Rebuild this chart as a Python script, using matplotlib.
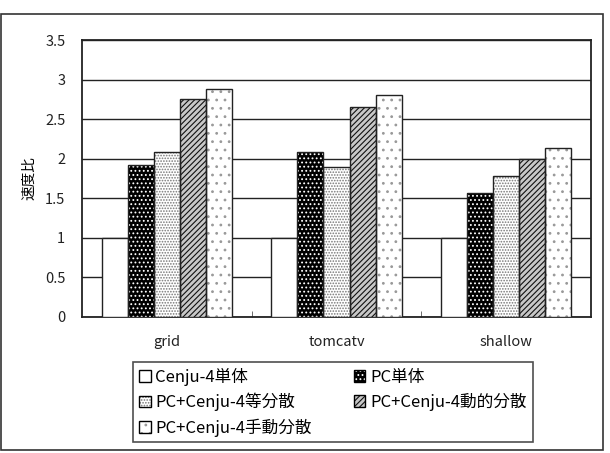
import matplotlib.pyplot as plt
import matplotlib.patches as patches
import numpy as np

plt.rcParams['font.family'] = ['Noto Sans CJK JP', 'DejaVu Sans']
plt.rcParams['hatch.linewidth'] = 0.8

# data
programs = ["grid", "tomcatv", "shallow"]
series = ["Cenju-4単体", "PC単体", "PC+Cenju-4等分散", "PC+Cenju-4動的分散", "PC+Cenju-4手動分散"]
cenju = [1.0, 1.0, 1.0]
pc = [1.92, 2.09, 1.57]
pc_equal = [2.08, 1.89, 1.78]
pc_dynamic = [2.75, 2.65, 2.00]
pc_manual = [2.88, 2.81, 2.13]
yticks = [0, 0.5, 1, 1.5, 2, 2.5, 3, 3.5]
ytick_labels = ["0", "0.5", "1", "1.5", "2", "2.5", "3", "3.5"]

values = [cenju, pc, pc_equal, pc_dynamic, pc_manual]
# face, hatch, hatch colour
styles = [("white", None, "black"),
          ("black", "....", "white"),
          ("white", "......", "#777777"),
          ("#c8c8c8", "//////", "#111111"),
          ("white", "..", "#999999")]

fig = plt.figure(figsize=(6.10, 4.53), dpi=100)
ax = fig.add_axes([82/610, 1-317/453, (591-82)/610, (317-40)/453])

# outer chart frame
fig.patches.append(patches.Rectangle((1/610, 1-450/453), 602/610, 436/453,
                                     transform=fig.transFigure, fill=False,
                                     edgecolor="#333333", linewidth=1.2))

x = np.arange(len(programs))
w = 1/6.5
handles = []
for i, vals in enumerate(values):
    face, hatch, hc = styles[i]
    pos = x - 2*w + i*w
    ax.bar(pos, vals, w, color=face, edgecolor=hc, hatch=hatch, linewidth=0, zorder=3)
    ax.bar(pos, vals, w, fill=False, edgecolor="#222222", linewidth=1.0, zorder=4)
    handles.append(patches.Patch(facecolor=face, edgecolor=hc, hatch=hatch, linewidth=0))

ax.set_xlim(-0.5, 2.5)
ax.set_ylim(0, 3.5)
ax.set_yticks(yticks)
ax.set_yticklabels(ytick_labels)
ax.yaxis.grid(True, color="#222222", linewidth=1.0, zorder=0)
ax.set_axisbelow(True)
ax.tick_params(axis="y", length=0, labelsize=10.5, pad=12, colors="#222222")
ax.set_xticks(x)
ax.set_xticklabels(programs)
ax.tick_params(axis="x", length=0, labelsize=10.5, pad=13, colors="#222222")
ax.set_xticks([0.5, 1.5], minor=True)
ax.tick_params(axis="x", which="minor", direction="in", length=4, color="#555555")
for s in ax.spines.values():
    s.set_linewidth(1.3)
    s.set_color("#222222")

ax.set_ylabel("速度比", fontsize=10.5)
ax.yaxis.set_label_coords(-(82-36)/509, 0.5)

# legend handles get a black outline on top of the hatch
class OutlinedHandler:
    def legend_artist(self, legend, orig, fontsize, handlebox):
        x0, y0 = handlebox.xdescent, handlebox.ydescent
        wd, ht = handlebox.width, handlebox.height
        p = patches.Rectangle((x0, y0), wd, ht, facecolor=orig.get_facecolor(),
                              edgecolor=orig.get_edgecolor(), hatch=orig.get_hatch(),
                              linewidth=0, transform=handlebox.get_transform())
        q = patches.Rectangle((x0, y0), wd, ht, fill=False, edgecolor="black",
                              linewidth=1.0, transform=handlebox.get_transform())
        handlebox.add_artist(p)
        handlebox.add_artist(q)
        return p

order = [0, 2, 4, 1, 3]
leg = fig.legend([handles[i] for i in order], [series[i] for i in order],
                 handler_map={patches.Patch: OutlinedHandler()},
                 ncol=2, loc="upper left", bbox_to_anchor=(133/610, 1-362/453),
                 borderaxespad=0,
                 frameon=True, fancybox=False, edgecolor="#222222",
                 fontsize=12, handlelength=0.7, handleheight=0.7,
                 handletextpad=0.3, columnspacing=2.5, labelspacing=0.42,
                 borderpad=0.35)
leg.get_frame().set_linewidth(1.2)

fig.savefig("out.png", dpi=100)
